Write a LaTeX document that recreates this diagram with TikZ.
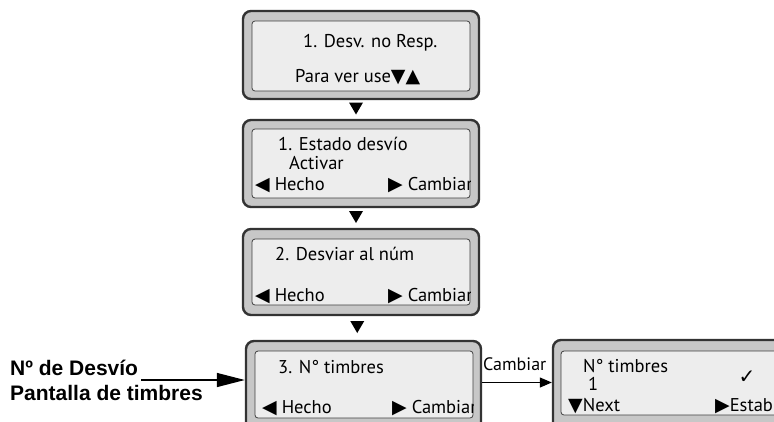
\documentclass[tikz,border=0pt]{standalone}
\usepackage{fontspec}
\setmainfont{PT Sans}
\newfontfamily\symfont{DejaVu Sans}
\newfontfamily\labelfont{Liberation Sans}
\usetikzlibrary{arrows.meta,positioning,calc}
\newcommand\symL{{\symfont\fontsize{19}{19}\selectfont ◀}}
\newcommand\symR{{\symfont\fontsize{19}{19}\selectfont ▶}}
\newcommand\symD{{\symfont\fontsize{19}{19}\selectfont ▼}}
\newcommand\symU{{\symfont\fontsize{19}{19}\selectfont ▲}}
\newcommand\symOK{{\symfont\fontsize{20}{20}\selectfont ✓}}

\begin{document}
\begin{tikzpicture}[x=1pt,y=-1pt,
  frame/.style={draw=black!80,line width=2.4pt,fill=black!22,rounded corners=8pt,inner sep=0pt},
  screen/.style={draw=black!75,line width=0.8pt,fill=black!7,rounded corners=3pt,inner sep=0pt},
  txt/.style={anchor=base west,inner sep=0pt,font=\fontsize{18.5}{20}\selectfont},
  lbl/.style={anchor=base west,inner sep=0pt,font=\labelfont\bfseries\fontsize{21}{24}\selectfont},
  bigarrow/.style={-{Triangle[length=28pt,width=14pt]},line width=1.4pt},
  smallarrow/.style={-{Triangle[length=12pt,width=10pt]},line width=1.2pt}]
  \clip (0,0) rectangle (774,421);
  % screens
  \node[frame,minimum width=236pt,minimum height=88pt] (s1) at (361,55) {};
  \node[screen,minimum width=218pt,minimum height=70pt] (s1in) at (361,56) {};
  \node[frame,minimum width=236pt,minimum height=87pt] (s2) at (361,163.5) {};
  \node[screen,minimum width=218pt,minimum height=69pt] (s2in) at (361,163.5) {};
  \node[frame,minimum width=236pt,minimum height=86pt] (s3) at (361,272) {};
  \node[screen,minimum width=218pt,minimum height=66pt] (s3in) at (361,272) {};
  \node[frame,minimum width=235pt,minimum height=89pt] (s4) at (363.5,385.5) {};
  \node[screen,minimum width=218pt,minimum height=67pt] (s4in) at (364,384.5) {};
  \node[frame,minimum width=247pt,minimum height=90pt] (s5) at (676.5,385) {};
  \node[screen,minimum width=229pt,minimum height=64pt] (s5in) at (675.5,383) {};
  % texts
  \node[txt] (t11) at (303,47) {1. Desv. no Resp.};
  \node[txt] (t12) at (295,82) {Para ver use\symD\symU};
  \node[txt] (t21) at (278,150) {1. Estado desvío};
  \node[txt] (t22) at (289,169) {Activar};
  \node[txt] (t23) at (255,190) {\symL\ Hecho};
  \node[txt] (t31) at (275,260) {2. Desviar al núm};
  \node[txt] (t33) at (255,301) {\symL\ Hecho};
  \node[txt] (t41) at (278,373) {3. N° timbres};
  \node[txt] (t43) at (262,413) {\symL\ Hecho};
  \node[txt] (t51) at (583,372) {N° timbres};
  \node[txt] (t52) at (588,390) {1};
  \node[txt] (t53) at (568,411) {\symD Next};
  \node[txt] (t55) at (715,411) {\symR Estab};
  \node[inner sep=0pt] (t54) at (747,377) {\symOK};
  \begin{scope}
    \clip (s2in.south west) rectangle (s2in.north east);
    \node[txt] (t24) at (388,190) {\symR\ Cambiar};
  \end{scope}
  \begin{scope}
    \clip (s3in.south west) rectangle (s3in.north east);
    \node[txt] (t34) at (388,301) {\symR\ Cambiar};
  \end{scope}
  \begin{scope}
    \clip (s4in.south west) rectangle (s4in.north east);
    \node[txt] (t44) at (392,413) {\symR\ Cambiar};
  \end{scope}
  % steps
  \foreach \a/\b in {s1/s2,s2/s3,s3/s4}{
    \coordinate (m) at ($(\a.south)!0.5!(\b.north)+(-5,-1)$);
    \fill (m) ++(-7,-6) -- ++(14,0) -- ++(-7,12) -- cycle;
  }
  % labels
  \node[lbl] (lbl1) at (10,375) {Nº de Desvío};
  \node[lbl] (lbl2) at (10,400) {Pantalla de timbres};
  \coordinate (a0) at ([xshift=3pt,yshift=-5pt]lbl1.base east);
  \draw[bigarrow] (a0) -- (a0 -| s4.west);
  \coordinate (c0) at ([yshift=3pt]s4.east);
  \draw[smallarrow] (c0) -- (c0 -| s5.west);
  \node[txt,font=\fontsize{18}{20}\selectfont] (lblc) at (483,370) {Cambiar};
\end{tikzpicture}
\end{document}
